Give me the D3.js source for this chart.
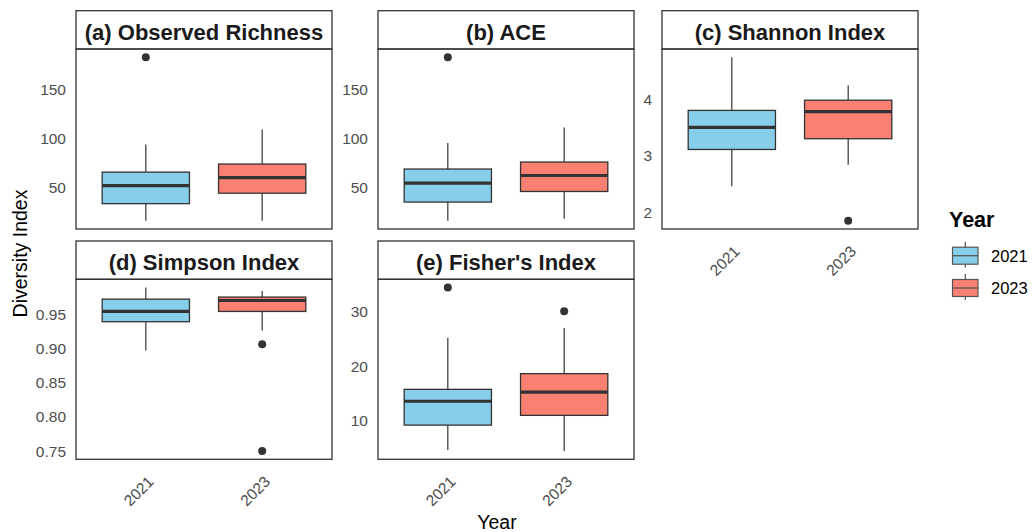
<!DOCTYPE html>
<html>
<head>
<meta charset="utf-8">
<script src="https://cdn.jsdelivr.net/npm/d3@7"></script>
<style>
  body { margin: 0; background: #fff; }
  svg { display: block; font-family: "Liberation Sans", Arial, sans-serif; }
</style>
</head>
<body>
<svg id="chart" width="1032" height="532"></svg>
<script>
// data, one entry per panel, [2021, 2023]
const panelTitles = ['(a) Observed Richness', '(b) ACE', '(c) Shannon Index', '(d) Simpson Index', "(e) Fisher's Index"];
const years = ['2021', '2023'];
const whiskerLow = [[16.6, 16.6], [15.8, 17.9], [2.46, 2.84], [0.897, 0.926], [4.5, 4.3]];
const q1 = [[34.0, 44.6], [34.9, 45.7], [3.11, 3.30], [0.939, 0.954], [9.1, 10.9]];
const median = [[52.3, 60.5], [54.3, 62.0], [3.50, 3.78], [0.954, 0.970], [13.5, 15.2]];
const q3 = [[66.0, 74.2], [68.6, 75.7], [3.80, 3.98], [0.972, 0.975], [15.7, 18.6]];
const whiskerHigh = [[93.9, 109.2], [95.0, 111.0], [4.74, 4.24], [0.989, 0.984], [25.2, 27.0]];
const outliers = [[[182.6], []], [[182.6], []], [[], [1.85]], [[], [0.906, 0.750]], [[34.5], [30.1]]];
const yTicks = [[50, 100, 150], [50, 100, 150], [2, 3, 4], [0.75, 0.80, 0.85, 0.90, 0.95], [10, 20, 30]];

const fills = { '2021': '#87CEEB', '2023': '#FA8072' };
const ink = '#333333';

// facet layout
const colX = [76, 378, 662];
const rowY = [10.7, 241];
const panelW = 256;
const stripH = 38.3;
const plotH = 180;
const showX = [2, 3, 4];

const svg = d3.select('#chart');

panelTitles.forEach((title, i) => {
  const col = i % 3;
  const row = Math.floor(i / 3);
  const x0 = colX[col];
  const top = rowY[row];
  const y0 = top + stripH;
  const y1 = y0 + plotH;

  const allVals = [...whiskerLow[i], ...whiskerHigh[i], ...outliers[i].flat()];
  const lo = d3.min(allVals);
  const hi = d3.max(allVals);
  const pad = (hi - lo) * 0.05;
  const y = d3.scaleLinear().domain([lo - pad, hi + pad]).range([y1, y0]);
  const x = d3.scalePoint().domain(years).range([x0, x0 + panelW]).padding(0.6);
  const bw = x.step() * 0.75;

  const g = svg.append('g');

  // strip
  g.append('rect')
    .attr('x', x0).attr('y', top)
    .attr('width', panelW).attr('height', stripH)
    .attr('fill', '#fff').attr('stroke', ink).attr('stroke-width', 1.3);
  g.append('text')
    .attr('x', x0 + panelW / 2).attr('y', top + 29)
    .attr('text-anchor', 'middle')
    .style('font-size', '22px').style('font-weight', 'bold')
    .attr('fill', '#1a1a1a')
    .text(title);

  // boxes
  years.forEach((yr, j) => {
    const cx = x(yr);
    g.append('line')
      .attr('x1', cx).attr('x2', cx)
      .attr('y1', y(whiskerHigh[i][j])).attr('y2', y(q3[i][j]))
      .attr('stroke', ink).attr('stroke-width', 1.2);
    g.append('line')
      .attr('x1', cx).attr('x2', cx)
      .attr('y1', y(q1[i][j])).attr('y2', y(whiskerLow[i][j]))
      .attr('stroke', ink).attr('stroke-width', 1.2);
    g.append('rect')
      .attr('x', cx - bw / 2).attr('y', y(q3[i][j]))
      .attr('width', bw).attr('height', y(q1[i][j]) - y(q3[i][j]))
      .attr('fill', fills[yr]).attr('stroke', ink).attr('stroke-width', 1.3);
    g.append('line')
      .attr('x1', cx - bw / 2).attr('x2', cx + bw / 2)
      .attr('y1', y(median[i][j])).attr('y2', y(median[i][j]))
      .attr('stroke', ink).attr('stroke-width', 3.2);
    g.selectAll(null)
      .data(outliers[i][j])
      .enter()
      .append('circle')
      .attr('cx', cx).attr('cy', (d) => y(d))
      .attr('r', 4)
      .attr('fill', ink);
  });

  // panel border
  g.append('rect')
    .attr('x', x0).attr('y', y0)
    .attr('width', panelW).attr('height', plotH)
    .attr('fill', 'none').attr('stroke', ink).attr('stroke-width', 1.3);

  // y axis
  const yAxis = d3.axisLeft(y)
    .tickValues(yTicks[i])
    .tickSize(0)
    .tickPadding(10)
    .tickFormat(i === 3 ? d3.format('.2f') : d3.format('d'));
  const ya = g.append('g').attr('transform', `translate(${x0},0)`).call(yAxis);
  ya.select('.domain').remove();
  ya.selectAll('text')
    .attr('fill', '#4d4d4d')
    .style('font-size', '15.5px')
    .style('font-family', '"Liberation Sans", Arial, sans-serif');

  // x axis on bottom panels of each column
  if (showX.includes(i)) {
    const xa = g.append('g')
      .attr('transform', `translate(0,${y1})`)
      .call(d3.axisBottom(x).tickSize(0));
    xa.select('.domain').remove();
    xa.selectAll('text')
      .attr('y', 0).attr('dy', '0.72em')
      .attr('text-anchor', 'end')
      .attr('transform', 'translate(0.5,15.5) rotate(-45)')
      .attr('fill', '#4d4d4d')
      .style('font-size', '15.5px')
      .style('font-family', '"Liberation Sans", Arial, sans-serif');
  }
});

// axis titles
svg.append('text')
  .attr('transform', 'translate(27,253.5) rotate(-90)')
  .attr('text-anchor', 'middle')
  .style('font-size', '19.5px')
  .attr('fill', '#000')
  .text('Diversity Index');
svg.append('text')
  .attr('x', 497).attr('y', 529)
  .attr('text-anchor', 'middle')
  .style('font-size', '19.5px')
  .attr('fill', '#000')
  .text('Year');

// legend
const legend = svg.append('g').attr('transform', 'translate(949,0)');
legend.append('text')
  .attr('x', 0).attr('y', 227)
  .style('font-size', '21.5px').style('font-weight', 'bold')
  .attr('fill', '#000')
  .text('Year');
years.forEach((yr, j) => {
  const cy = 255.7 + j * 32.3;
  const kx = 3.5;
  const kw = 25.5;
  legend.append('line')
    .attr('x1', kx + kw / 2).attr('x2', kx + kw / 2)
    .attr('y1', cy - 14).attr('y2', cy + 12)
    .attr('stroke', ink).attr('stroke-width', 1);
  legend.append('rect')
    .attr('x', kx).attr('y', cy - 8.5)
    .attr('width', kw).attr('height', 17)
    .attr('fill', fills[yr]).attr('stroke', '#555').attr('stroke-width', 1.2);
  legend.append('line')
    .attr('x1', kx).attr('x2', kx + kw)
    .attr('y1', cy).attr('y2', cy)
    .attr('stroke', '#555').attr('stroke-width', 1.3);
  legend.append('text')
    .attr('x', 42).attr('y', cy + 6)
    .style('font-size', '16.5px')
    .attr('fill', '#000')
    .text(yr);
});
</script>
</body>
</html>
